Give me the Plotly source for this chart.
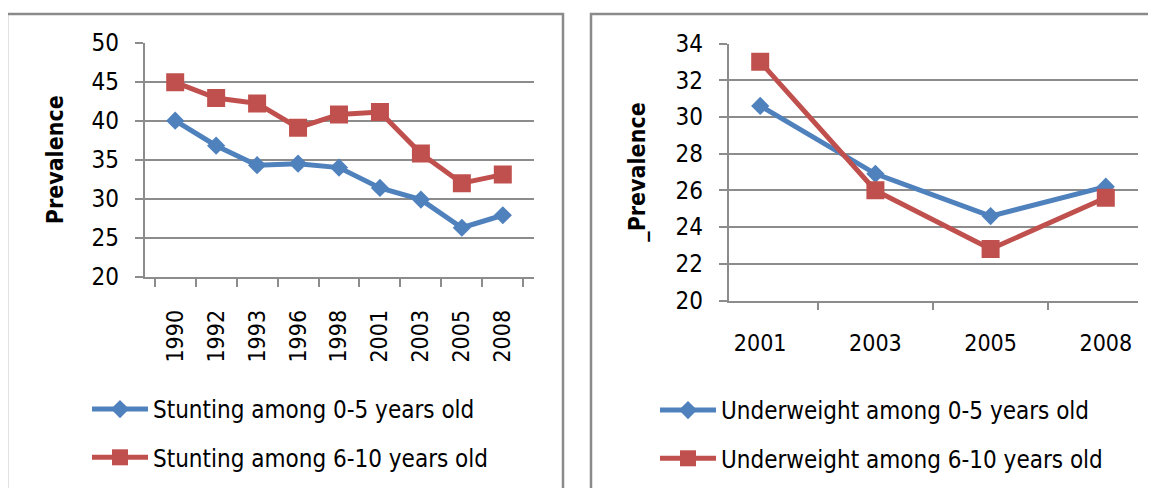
import plotly.graph_objects as go

years_left = ["1990", "1992", "1993", "1996", "1998", "2001", "2003", "2005", "2008"]
stunting_0_5 = [40.0, 36.8, 34.3, 34.5, 34.0, 31.4, 29.9, 26.3, 27.9]
stunting_6_10 = [44.9, 42.9, 42.2, 39.1, 40.8, 41.1, 35.8, 32.0, 33.1]

years_right = ["2001", "2003", "2005", "2008"]
underweight_0_5 = [30.6, 26.9, 24.6, 26.2]
underweight_6_10 = [33.0, 26.0, 22.8, 25.6]

W, H = 1156, 488
OFF = 8  # page body margin
BLUE = "#4F81BD"
RED = "#C0504D"
GRID = "#8C8C8C"
FONT = "DejaVu Sans Condensed, Liberation Sans Narrow, sans-serif"

def px_x(p):
    return (p - OFF) / W

def px_y(p):
    return 1 - (p - OFF) / H

fig = go.Figure()

def add(xs, ys, name, color, symbol, size, xa, ya, leg, grp):
    fig.add_trace(go.Scatter(x=xs, y=ys, name=name, mode="lines+markers",
                             line=dict(color=color, width=5),
                             marker=dict(symbol=symbol, size=size, color=color),
                             xaxis=xa, yaxis=ya, legend=leg, legendgroup=grp))

add(years_left, stunting_0_5, "Stunting among 0-5 years old", BLUE, "diamond", 14, "x", "y", "legend", "a")
add(years_left, stunting_6_10, "Stunting among 6-10 years old", RED, "square", 18, "x", "y", "legend", "b")
add(years_right, underweight_0_5, "Underweight among 0-5 years old", BLUE, "diamond", 14, "x2", "y2", "legend2", "c")
add(years_right, underweight_6_10, "Underweight among 6-10 years old", RED, "square", 18, "x2", "y2", "legend2", "d")

ytick_font = dict(family=FONT, size=24, color="#000000")
xtick_font = dict(family=FONT, size=23, color="#000000")
title_font = dict(family=FONT, size=23, color="#000000", weight="bold")
legend_font = dict(family=FONT, size=24, color="#000000")

common_y = dict(showgrid=True, gridcolor=GRID, gridwidth=1.5, zeroline=False,
                showline=True, linecolor=GRID, linewidth=1.5,
                ticks="outside", ticklen=8, tickcolor=GRID, tickwidth=1.5,
                tickfont=ytick_font, ticklabelstandoff=11)
common_x = dict(type="category", showgrid=False, zeroline=False,
                showline=True, linecolor=GRID, linewidth=1.5,
                ticks="outside", ticklen=8, tickcolor=GRID, tickwidth=1.5,
                tickson="boundaries", tickfont=xtick_font)

fig.update_layout(
    width=W, height=H,
    margin=dict(l=0, r=0, t=0, b=0, autoexpand=False),
    paper_bgcolor="white", plot_bgcolor="white",
    xaxis=dict(domain=[px_x(144.5), px_x(533.5)], anchor="y", tickangle=-90,
               ticklabelstandoff=22, **common_x),
    yaxis=dict(domain=[px_y(277), px_y(42.5)], anchor="x", range=[20, 50], dtick=5,
               title=dict(text="Prevalence", font=title_font, standoff=21), **common_y),
    xaxis2=dict(domain=[px_x(728.5), px_x(1137.5)], anchor="y2", tickangle=0,
                ticklabelstandoff=21, **common_x),
    yaxis2=dict(domain=[px_y(300.5), px_y(43.5)], anchor="x2", range=[20, 34], dtick=2,
                title=dict(text="_Prevalence", font=title_font, standoff=23), **common_y),
    legend=dict(x=px_x(87), y=px_y(387), xanchor="left", yanchor="top",
                font=legend_font, bgcolor="rgba(0,0,0,0)",
                tracegroupgap=14, traceorder="grouped", itemwidth=56),
    legend2=dict(x=px_x(655), y=px_y(388), xanchor="left", yanchor="top",
                 font=legend_font, bgcolor="rgba(0,0,0,0)",
                 tracegroupgap=14, traceorder="grouped", itemwidth=56),
    showlegend=True,
    shapes=[
        dict(type="rect", xref="paper", yref="paper",
             x0=px_x(7), x1=px_x(563), y0=px_y(14), y1=px_y(530),
             line=dict(color="#8A8A8A", width=2.5), fillcolor="rgba(0,0,0,0)", layer="below"),
        dict(type="rect", xref="paper", yref="paper",
             x0=px_x(591), x1=px_x(1200), y0=px_y(14), y1=px_y(530),
             line=dict(color="#8A8A8A", width=2.5), fillcolor="rgba(0,0,0,0)", layer="below"),
    ],
)

fig.write_html("out.html")
